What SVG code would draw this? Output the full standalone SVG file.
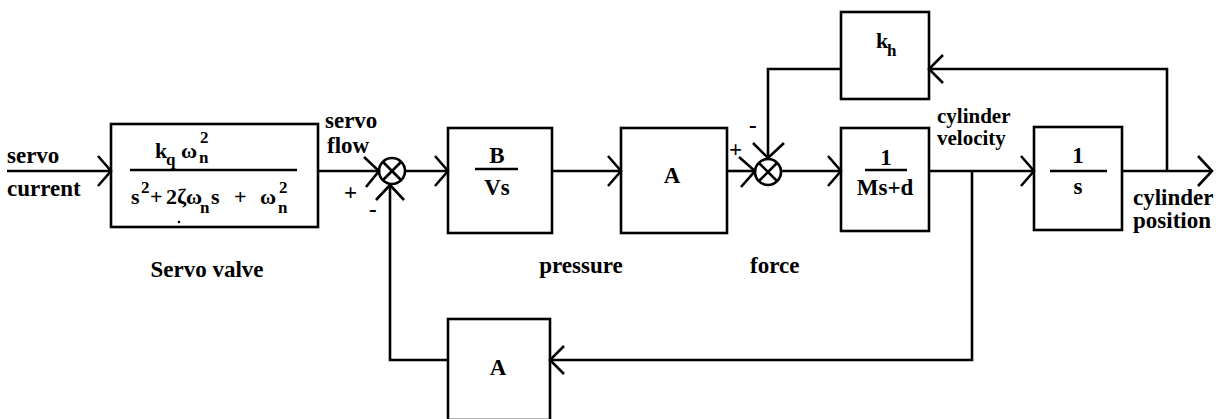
<svg xmlns="http://www.w3.org/2000/svg" width="1224" height="419" viewBox="0 0 1224 419">
<style>
.b{fill:none;stroke:#000;stroke-width:2.6}
.l{fill:none;stroke:#000;stroke-width:2.6;stroke-linejoin:miter}
text{font-weight:bold;fill:#000}
.t{font-size:23px}
.v{font-size:21px}
.m{font-size:22px}
.s{font-size:17px}
.c{text-anchor:middle}
</style>
<rect width="1224" height="419" fill="#fff"/>
<g id="connectors">
<polyline class="l" points="7,171 111,171"/>
<polyline class="l" points="98,156 111,171 98,186"/>
<polyline class="l" points="318,171 379,171"/>
<polyline class="l" points="364,157 379,171 366,187"/>
<polyline class="l" points="405,171 448,171"/>
<polyline class="l" points="435,156 448,171 435,186"/>
<polyline class="l" points="552,171 621,171"/>
<polyline class="l" points="608,156 621,171 608,186"/>
<polyline class="l" points="727,171 755,171"/>
<polyline class="l" points="739,157 755,171 741,187"/>
<polyline class="l" points="781,171 841,171"/>
<polyline class="l" points="828,156 841,171 828,186"/>
<polyline class="l" points="929,171 1034,171"/>
<polyline class="l" points="1021,156 1034,171 1021,186"/>
<polyline class="l" points="1122,171 1212,171"/>
<polyline class="l" points="1198,156 1212,171 1198,186"/>
<polyline class="l" points="1167,171 1167,69 929,69"/>
<polyline class="l" points="943,55 929,69 943,83"/>
<polyline class="l" points="841,69 768,69 768,158"/>
<polyline class="l" points="753,143 768,158 784,143"/>
<polyline class="l" points="972,171 972,360 550,360"/>
<polyline class="l" points="564,346 550,360 564,374"/>
<polyline class="l" points="448,360 390,360 390,185"/>
<polyline class="l" points="376,200 390,185 404,200"/>
</g>
<g font-family="Liberation Serif, DejaVu Serif, serif">
<g id="in-labels">
<text class="t" x="7" y="163">servo</text>
<text class="t" x="7" y="196">current</text>
</g>
<g id="servo-valve">
<rect class="b" x="111" y="124" width="207" height="103"/>
<line class="b" x1="130" y1="170" x2="297" y2="170"/>
<text class="m" x="155" y="158">k</text>
<text class="s" x="166" y="165">q</text>
<text class="m" x="181" y="158">ω</text>
<text class="s" x="199" y="163">n</text>
<text class="s" x="200" y="143">2</text>
<text class="m" x="131" y="204">s</text>
<text class="s" x="141" y="193">2</text>
<text class="m" x="150" y="204">+</text>
<text class="m" x="166" y="204">2</text>
<text class="m" x="177" y="204">ζ</text>
<text class="m" x="186" y="204">ω</text>
<text class="s" x="200" y="213">n</text>
<text class="m" x="211" y="204">s</text>
<text class="m" x="234" y="204">+</text>
<text class="m" x="260" y="204">ω</text>
<text class="s" x="278" y="213">n</text>
<text class="s" x="279" y="193">2</text>
<circle cx="179" cy="222" r="1.3" fill="#000"/>
<text class="t c" x="207" y="277">Servo valve</text>
</g>
<g id="servo-flow">
<text class="t" x="325" y="128">servo</text>
<text class="t" x="327" y="153">flow</text>
</g>
<g id="sum1">
<circle class="b" cx="392" cy="171" r="13"/>
<line class="b" x1="383" y1="162" x2="401" y2="180"/>
<line class="b" x1="401" y1="162" x2="383" y2="180"/>
<text class="t" x="344" y="200">+</text>
<text class="t" x="369" y="217">-</text>
</g>
<g id="b-vs">
<rect class="b" x="448" y="128" width="104" height="105"/>
<line class="b" x1="475" y1="169" x2="518" y2="169"/>
<text class="t c" x="497" y="163">B</text>
<text class="t c" x="497" y="195">Vs</text>
</g>
<g id="a-gain">
<rect class="b" x="621" y="128" width="106" height="105"/>
<text class="t c" x="672" y="183">A</text>
</g>
<text class="t c" x="581" y="273">pressure</text>
<text class="t" x="750" y="273">force</text>
<g id="sum2">
<circle class="b" cx="768" cy="172" r="13"/>
<line class="b" x1="759" y1="163" x2="777" y2="181"/>
<line class="b" x1="777" y1="163" x2="759" y2="181"/>
<text class="t" x="729" y="157">+</text>
<text class="t" x="749" y="133">-</text>
</g>
<g id="kh">
<rect class="b" x="841" y="12" width="88" height="87"/>
<text class="m" x="876" y="48">k</text>
<text class="s" x="887" y="56">h</text>
</g>
<g id="mass">
<rect class="b" x="841" y="128" width="88" height="103"/>
<line class="b" x1="865" y1="170" x2="907" y2="170"/>
<text class="t c" x="886" y="165">1</text>
<text class="t c" x="885" y="195">Ms+d</text>
</g>
<g id="vel-label">
<text class="v" x="937" y="123">cylinder</text>
<text class="v" x="937" y="145">velocity</text>
</g>
<g id="integrator">
<rect class="b" x="1034" y="127" width="88" height="103"/>
<line class="b" x1="1050" y1="171" x2="1107" y2="171"/>
<text class="t c" x="1078" y="163">1</text>
<text class="t c" x="1078" y="194">s</text>
</g>
<g id="pos-label">
<text class="t" x="1133" y="205">cylinder</text>
<text class="t" x="1133" y="228">position</text>
</g>
<g id="a-feedback">
<rect class="b" x="448" y="319" width="102" height="101"/>
<text class="t c" x="498" y="375">A</text>
</g>
</g>
</svg>
